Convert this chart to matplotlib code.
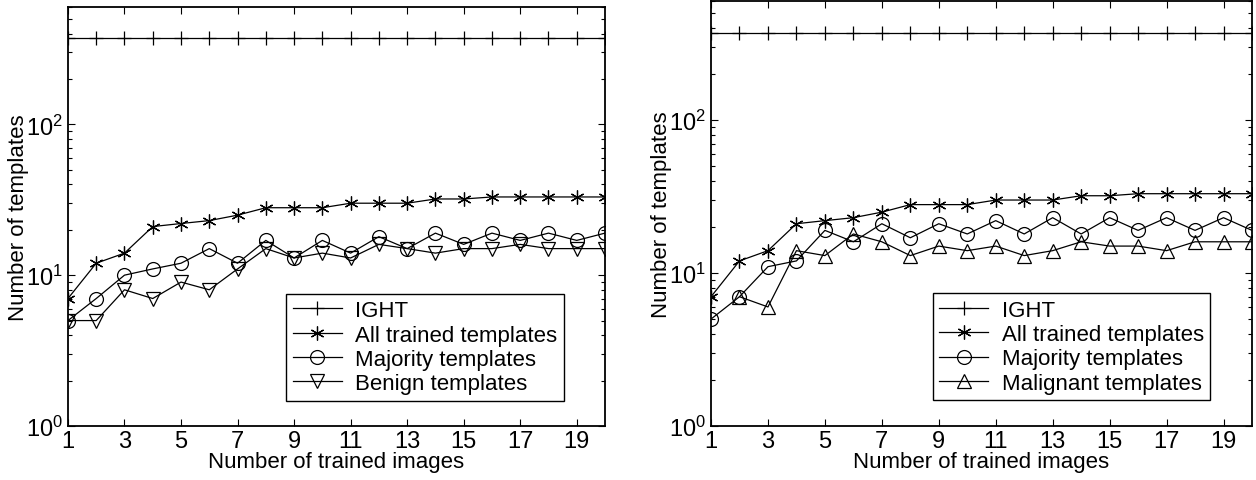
import numpy as np
import matplotlib.pyplot as plt
from matplotlib.ticker import LogLocator, NullFormatter, FixedLocator

plt.rcParams['font.family'] = ['Liberation Sans', 'DejaVu Sans']

# Data
n_images = list(range(1, 21))
ight = [372] * 20
all_trained = [7, 12, 14, 21, 22, 23, 25, 28, 28, 28, 30, 30, 30, 32, 32, 33, 33, 33, 33, 33]

majority_left = [5, 7, 10, 11, 12, 15, 12, 17, 13, 17, 14, 18, 15, 19, 16, 19, 17, 19, 17, 19]
benign = [5, 5, 8, 7, 9, 8, 11, 15, 13, 14, 13, 16, 15, 14, 15, 15, 16, 15, 15, 15]

majority_right = [5, 7, 11, 12, 19, 16, 21, 17, 21, 18, 22, 18, 23, 18, 23, 19, 23, 19, 23, 19]
malignant = [np.nan, 7, 6, 14, 13, 18, 16, 13, 15, 14, 15, 13, 14, 16, 15, 15, 14, 16, 16, 16]

xticks = [1, 3, 5, 7, 9, 11, 13, 15, 17, 19]

fig = plt.figure(figsize=(12.56, 4.81), dpi=100)
ax1 = fig.add_axes([0.0541, 0.1123, 0.4276, 0.8711])
ax2 = fig.add_axes([0.5661, 0.1123, 0.4307, 0.8835])

mk = dict(color='black', linewidth=0.9, markersize=10, markerfacecolor='none',
          markeredgecolor='black', markeredgewidth=0.9)


def draw(ax, maj, last, last_label, last_marker):
    ax.plot(n_images, ight, marker='+', label='IGHT', **mk)
    ax.plot(n_images, all_trained, marker=(6, 2, 0), label='All trained templates', **mk)
    ax.plot(n_images, maj, marker='o', label='Majority templates', **mk)
    ax.plot(n_images, last, marker=last_marker, label=last_label, **mk)
    ax.set_yscale('log')
    ax.set_xlim(1, 20)
    ax.set_ylim(1, 600)
    ax.xaxis.set_major_locator(FixedLocator(xticks))
    ax.yaxis.set_major_locator(LogLocator(base=10, numticks=10))
    ax.yaxis.set_minor_locator(LogLocator(base=10, subs=np.arange(2, 10), numticks=10))
    ax.yaxis.set_minor_formatter(NullFormatter())
    ax.tick_params(which='both', direction='in', top=True, right=True, labelsize=17, width=0.8)
    ax.tick_params(which='major', length=5)
    ax.tick_params(which='minor', length=3)
    ax.tick_params(axis='x', pad=3)
    for s in ax.spines.values():
        s.set_linewidth(1.3)
    ax.set_xlabel('Number of trained images', fontsize=16, labelpad=-1)
    ax.set_ylabel('Number of templates', fontsize=16, labelpad=-2)
    leg = ax.legend(loc='lower right', bbox_to_anchor=(0.923, 0.06), fontsize=16,
                    fancybox=False, framealpha=1, edgecolor='black',
                    borderpad=0.3, labelspacing=0.15, handlelength=2.2,
                    handletextpad=0.6, borderaxespad=0)
    leg.get_frame().set_linewidth(1.0)


draw(ax1, majority_left, benign, 'Benign templates', 'v')
draw(ax2, majority_right, malignant, 'Malignant templates', '^')

fig.savefig('out.png', dpi=100)
